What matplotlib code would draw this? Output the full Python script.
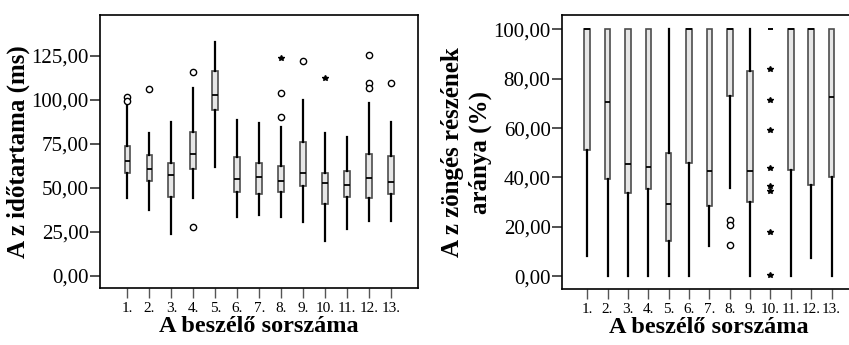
import matplotlib
matplotlib.use('Agg')
import matplotlib.pyplot as plt

plt.rcParams.update({'font.family': 'Liberation Serif',
                     'axes.linewidth': 1.2})

speakers = ['1.', '2.', '3.', '4.', '5.', '6.', '7.', '8.', '9.', '10.', '11.', '12.', '13.']

# Left: segment duration (ms)
dur_whislo = [44.4, 37.2, 23.6, 44.0, 61.6, 33.3, 34.4, 33.6, 30.4, 20.0, 26.5, 31.4, 31.0]
dur_q1 = [58.6, 53.7, 44.6, 60.8, 93.9, 47.8, 46.5, 47.4, 51.0, 41.0, 45.0, 44.4, 46.5]
dur_med = [65.4, 60.5, 57.1, 69.2, 102.8, 54.8, 56.1, 53.7, 58.6, 52.7, 51.4, 55.7, 53.3]
dur_q3 = [73.9, 68.4, 64.2, 81.8, 116.2, 67.3, 63.9, 62.5, 75.8, 58.2, 59.5, 69.4, 68.2]
dur_whishi = [96.4, 81.3, 87.1, 106.4, 132.8, 88.2, 86.5, 84.7, 99.8, 80.9, 79.0, 97.9, 87.1]
dur_circle_x = [1, 1, 2, 4, 4, 8, 8, 9, 12, 12, 12, 13]
dur_circle_y = [101.5, 99.4, 105.8, 115.5, 27.6, 90.3, 103.6, 122.1, 125.1, 109.2, 106.4, 109.2]
dur_star_x = [8, 10]
dur_star_y = [123.8, 112.4]

# Right: voiced part ratio (%)
voi_whislo = [8.2, 0, 0, 0, 0, 0, 12.3, 35.8, 0, 100, 0, 7.2, 0]
voi_q1 = [51.1, 39.5, 33.9, 35.4, 14.1, 45.9, 28.5, 72.8, 30.1, 100, 43.2, 36.8, 40.3]
voi_med = [100, 70.4, 45.3, 44.1, 29.3, 100, 42.6, 100, 42.8, 100, 100, 100, 72.4]
voi_q3 = [100, 100, 100, 100, 50.0, 100, 100, 100, 83.0, 100, 100, 100, 100]
voi_whishi = [100, 100, 100, 100, 100, 100, 100, 100, 100, 100, 100, 100, 100]
voi_circle_x = [8, 8, 8]
voi_circle_y = [22.7, 20.7, 12.6]
voi_star_x = [10, 10, 10, 10, 10, 10, 10, 10]
voi_star_y = [84.1, 71.2, 59.3, 43.9, 36.6, 34.6, 17.7, 0.3]


def draw(ax, lo, q1, med, q3, hi, cx, cy, sx, sy):
    pos = list(range(1, len(speakers) + 1))
    stats = [dict(whislo=a, q1=b, med=c, q3=d, whishi=e, fliers=[])
             for a, b, c, d, e in zip(lo, q1, med, q3, hi)]
    ax.bxp(stats, positions=pos, widths=0.27, patch_artist=True, showcaps=False,
           boxprops=dict(facecolor='#e6e6e6', edgecolor='#4d4d4d', linewidth=1.2),
           medianprops=dict(color='black', linewidth=1.3),
           whiskerprops=dict(color='black', linewidth=1.6))
    ax.plot(cx, cy, 'o', mfc='white', mec='black', ms=4.5, mew=1.0, ls='none')
    ax.plot(sx, sy, '*', color='black', ms=4, ls='none')
    ax.set_xlim(-0.25, 14.2)
    ax.set_xticks(pos)
    ax.set_xticklabels(speakers, fontsize=11)
    ax.tick_params(axis='x', length=7, width=1.0, color='#555555', pad=3)
    ax.tick_params(axis='y', length=7.5, width=1.2, color='#333333', labelsize=15, pad=0.5)
    ax.set_xlabel('A beszélő sorszáma', fontsize=17.5, fontweight='bold', labelpad=1)


fig = plt.figure(figsize=(8.49, 3.45), dpi=100)

ax1 = fig.add_axes([0.1178, 0.1652, 0.3742, 0.7913])
draw(ax1, dur_whislo, dur_q1, dur_med, dur_q3, dur_whishi,
     dur_circle_x, dur_circle_y, dur_star_x, dur_star_y)
ax1.set_ylim(-6.8, 148)
ax1.set_yticks([0, 25, 50, 75, 100, 125])
ax1.set_yticklabels(['0,00', '25,00', '50,00', '75,00', '100,00', '125,00'])
ax1.set_ylabel('A z időtartama (ms)', fontsize=18, fontweight='bold')
ax1.yaxis.set_label_coords(-0.22, 0.5)

ax2 = fig.add_axes([0.6616, 0.163, 0.3467, 0.7927])
draw(ax2, voi_whislo, voi_q1, voi_med, voi_q3, voi_whishi,
     voi_circle_x, voi_circle_y, voi_star_x, voi_star_y)
ax2.set_ylim(-5.1, 105.7)
ax2.set_yticks([0, 20, 40, 60, 80, 100])
ax2.set_yticklabels(['0,00', '20,00', '40,00', '60,00', '80,00', '100,00'])
ax2.set_ylabel('A z zöngés részének\naránya (%)', fontsize=18, fontweight='bold',
               linespacing=1.25)
ax2.yaxis.set_label_coords(-0.237, 0.5)

fig.savefig('out.png', dpi=100)
